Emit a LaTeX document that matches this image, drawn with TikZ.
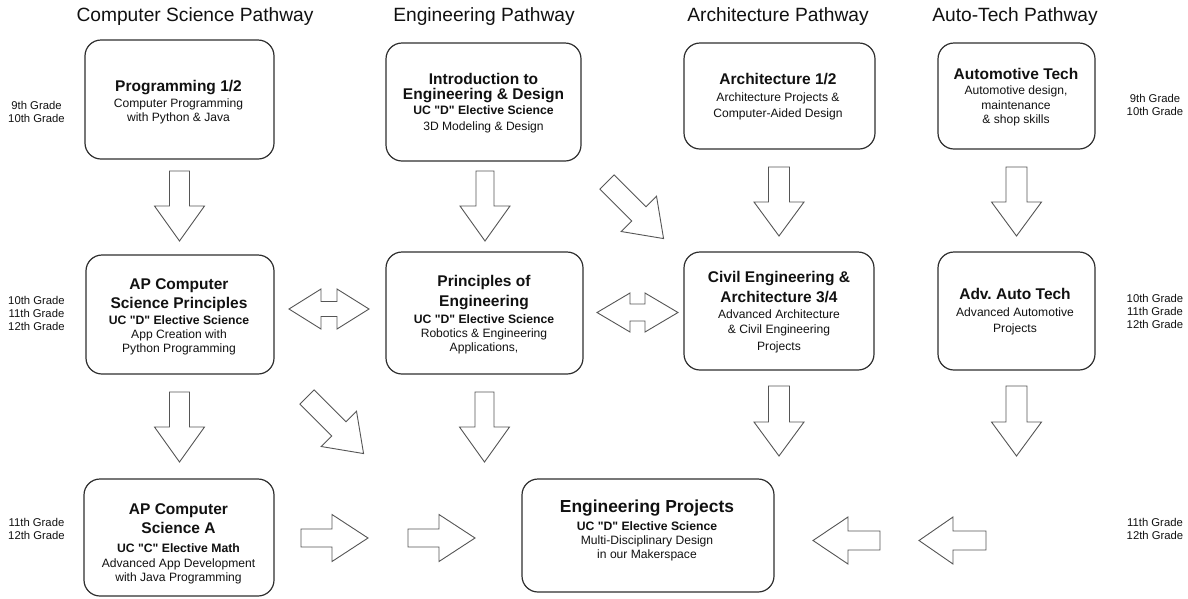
\documentclass[tikz,border=0pt]{standalone}
\usepackage{fontspec}
\setmainfont{Liberation Sans}
\frenchspacing
\definecolor{boxgray}{HTML}{2E2E2E}
\definecolor{arrowgray}{HTML}{555555}
\definecolor{txt}{HTML}{111111}
\newcommand\ptitle{\fontsize{19.2}{22}\selectfont}
\newcommand\btitle{\fontsize{15.5}{17}\selectfont\bfseries}
\newcommand\bigtitle{\fontsize{17.4}{19}\selectfont\bfseries}
\newcommand\ucline{\fontsize{12.2}{14}\selectfont\bfseries}
\newcommand\dq{\textquotedbl{}}
\begin{document}
\begin{tikzpicture}[x=1pt,y=-1pt,
  box/.style={draw=boxgray, line width=1.2pt, rounded corners=16pt, fill=none, inner sep=0pt},
  boxtext/.style={align=center, text=txt, inner sep=0pt, font=\fontsize{12.1}{14}\selectfont},
  grade/.style={align=center, text=txt, inner sep=0pt, font=\fontsize{11.3}{13}\selectfont},
  pathtitle/.style={text=txt, inner sep=0pt, font=\ptitle},
  blk/.style={draw=arrowgray, line width=0.9pt, fill=white, line join=miter},
  pics/barrow/.style n args={4}{code={
    \draw[blk] (0,{#2/2}) -- ({#1-#4},{#2/2}) -- ({#1-#4},{#3/2}) -- (#1,0)
      -- ({#1-#4},{-#3/2}) -- ({#1-#4},{-#2/2}) -- (0,{-#2/2}) -- cycle;}},
  pics/dblarrow/.style n args={4}{code={
    \draw[blk] (0,0) -- (#4,{#3/2}) -- (#4,{#2/2}) -- ({#1-#4},{#2/2}) -- ({#1-#4},{#3/2})
      -- (#1,0) -- ({#1-#4},{-#3/2}) -- ({#1-#4},{-#2/2}) -- (#4,{-#2/2}) -- (#4,{-#3/2}) -- cycle;}}
]
\useasboundingbox (0,0) rectangle (1188,598);

% pathway titles
\node[pathtitle] (t1) at (195,17) {Computer Science Pathway};
\node[pathtitle] (t2) at (484,17) {Engineering Pathway};
\node[pathtitle] (t3) at (778,17) {Architecture Pathway};
\node[pathtitle] (t4) at (1015,17) {Auto-Tech Pathway};

% boxes
\node[box, minimum width=189pt, minimum height=119pt] (prog) at (179.5,99.5) {};
\node[box, minimum width=195pt, minimum height=118pt] (intro) at (483.5,102) {};
\node[box, minimum width=191pt, minimum height=106pt] (arch) at (779.5,96) {};
\node[box, minimum width=157pt, minimum height=106pt] (auto) at (1016.5,96) {};
\node[box, minimum width=188pt, minimum height=119pt] (csp) at (180,314.5) {};
\node[box, minimum width=197pt, minimum height=122pt] (poe) at (484.5,313) {};
\node[box, minimum width=190pt, minimum height=118pt] (civil) at (779,311) {};
\node[box, minimum width=157pt, minimum height=118pt] (adv) at (1016.5,311) {};
\node[box, minimum width=190pt, minimum height=117pt] (csa) at (179,537.5) {};
\node[box, minimum width=252pt, minimum height=113pt] (proj) at (648,535.5) {};

% box texts
\node[boxtext] (prog-t) at (178.5,102) {{\btitle Programming 1/2}\\[2pt]Computer Programming\\with Python \& Java};
\node[boxtext] (intro-t) at (483.5,103) {{\btitle Introduction to}\\[1pt]{\btitle Engineering \& Design}\\[1pt]{\ucline UC \dq D\dq\ Elective Science}\\[2pt]3D Modeling \& Design};
\node[boxtext] (arch-t) at (778,96.5) {{\btitle Architecture 1/2}\\[3pt]Architecture Projects \&\\[2pt]Computer-Aided Design};
\node[boxtext] (auto-t) at (1016,97) {{\btitle Automotive Tech}\\[1pt]Automotive design,\\[1pt]maintenance\\\& shop skills};
\node[boxtext] (csp-t) at (179,317) {{\btitle AP Computer}\\[4pt]{\btitle Science Principles}\\[2pt]{\ucline UC \dq D\dq\ Elective Science}\\App Creation with\\Python Programming};
\node[boxtext] (poe-t) at (484,314.5) {{\btitle Principles of}\\[4pt]{\btitle Engineering}\\[3pt]{\ucline UC \dq D\dq\ Elective Science}\\Robotics \& Engineering\\Applications,};
\node[boxtext] (civil-t) at (779,312) {{\btitle Civil Engineering \&}\\[4pt]{\btitle Architecture 3/4}\\[2pt]Advanced Architecture\\[1pt]\& Civil Engineering\\[3pt]Projects};
\node[boxtext] (adv-t) at (1015,311.5) {{\btitle Adv. Auto Tech}\\[3pt]Advanced Automotive\\[2pt]Projects};
\node[boxtext] (csa-t) at (178.5,544) {{\btitle AP Computer}\\[4pt]{\btitle Science A}\\[5pt]{\ucline UC \dq C\dq\ Elective Math}\\[1pt]Advanced App Development\\with Java Programming};
\node[boxtext] (proj-t) at (647,530.5) {{\bigtitle Engineering Projects}\\[4pt]{\ucline UC \dq D\dq\ Elective Science}\\Multi-Disciplinary Design\\in our Makerspace};

% grade labels
\node[grade] (g1l) at (36.5,111.5) {9th Grade\\10th Grade};
\node[grade] (g1r) at (1155,105) {9th Grade\\10th Grade};
\node[grade] (g2l) at (36.5,313) {10th Grade\\11th Grade\\12th Grade};
\node[grade] (g2r) at (1155,311.5) {10th Grade\\11th Grade\\12th Grade};
\node[grade] (g3l) at (36.5,528.5) {11th Grade\\12th Grade};
\node[grade] (g3r) at (1155,528.5) {11th Grade\\12th Grade};

% block arrows, row 1 to row 2
\pic[rotate=-90] (a1) at (179.5,171) {barrow={70}{20}{50}{35}};
\pic[rotate=-90] (a2) at (485,171) {barrow={70}{18}{50}{35}};
\pic[rotate=-90] (a3) at (779,167) {barrow={69}{21}{50}{34}};
\pic[rotate=-90] (a4) at (1016.5,167) {barrow={69}{21}{50}{34}};
\pic[rotate=-45] (a5) at (607,182) {barrow={80}{20}{50}{35}};

% block arrows, row 2 to row 3
\pic[rotate=-90] (b1) at (179.5,392) {barrow={70}{20}{50}{35}};
\pic[rotate=-90] (b2) at (484.5,392) {barrow={70}{19}{50}{35}};
\pic[rotate=-90] (b3) at (779,386) {barrow={70}{21}{50}{34}};
\pic[rotate=-90] (b4) at (1016.5,386) {barrow={70}{21}{50}{34}};
\pic[rotate=-45] (b5) at (307,397) {barrow={80}{20}{50}{35}};

% double arrows
\pic (d1) at (289,309) {dblarrow={80}{15}{40}{32}};
\pic (d2) at (597,312.5) {dblarrow={81}{17}{39}{33}};

% bottom row arrows
\pic (c1) at (301,538) {barrow={67}{18}{47}{36}};
\pic (c2) at (408,538) {barrow={67}{18}{47}{36}};
\pic[rotate=180] (c3) at (880,540.5) {barrow={67}{19}{47}{35}};
\pic[rotate=180] (c4) at (986,540.5) {barrow={67}{19}{47}{34}};
\end{tikzpicture}
\end{document}
